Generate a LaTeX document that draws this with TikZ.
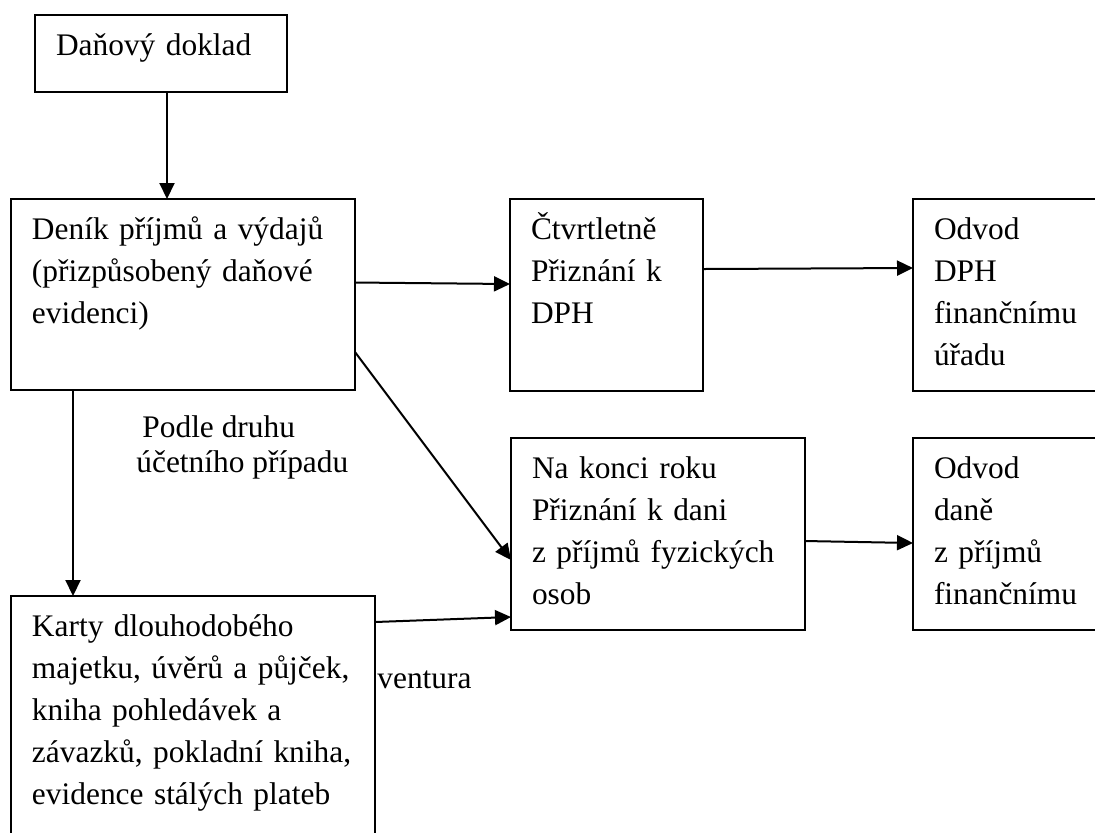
\documentclass[tikz,border=0pt]{standalone}
\usepackage{fontspec}
\setmainfont{Liberation Serif}
\usepackage{tikz}
\usetikzlibrary{arrows.meta}

\tikzset{
	box/.style={draw, line width=1pt, anchor=north west, align=left, outer sep=0pt,
		inner xsep=10.5pt, inner ysep=0pt, text height=20pt, font=\fontsize{15.7pt}{21pt}\selectfont},
	lbl/.style={anchor=base west, inner sep=0pt, font=\fontsize{15.7pt}{21pt}\selectfont},
	arr/.style={-{Triangle[length=8pt,width=7.5pt]}, line width=1pt}
}

\begin{document}
\begin{tikzpicture}[x=0.5pt,y=-0.5pt]
		\useasboundingbox (0,0) rectangle (1095,832);
		\clip (0,0) rectangle (1095,832);

		\node[box, text width=105pt, text depth=18.5pt] (doklad) at (35,15) {Daňový doklad};
		\node[box, text width=151pt, text depth=75.5pt] (denik) at (11,199) {Deník příjmů a výdajů\\(přizpůsobený daňové\\evidenci)};
		\node[box, text width=75.5pt, text depth=76pt] (ctvrt) at (510,199) {Čtvrtletně\\Přiznání k\\DPH};
		\node[box, text width=74pt, text depth=76pt] (odvoddph) at (913,199) {Odvod\\DPH\\finančnímu\\úřadu};
		\node[box, text width=126pt, text depth=76pt] (konec) at (511,438) {Na konci roku\\Přiznání k dani\\z příjmů fyzických\\osob};
		\node[box, text width=74pt, text depth=76pt] (odvoddane) at (913,438) {Odvod\\daně\\z příjmů\\finančnímu};
		\node[box, text width=161pt, text depth=102pt] (karty) at (11,596) {Karty dlouhodobého\\majetku, úvěrů a půjček,\\kniha pohledávek a\\závazků, pokladní kniha,\\evidence stálých plateb};

		\node[lbl] (druh) at (142,437) {Podle druhu};
		\node[lbl] (pripad) at (136,472) {účetního případu};
		\node[lbl] (ventura) at (377,688) {ventura};

		\path [arr] ([xshift=3pt]doklad.south) edge ([xshift=3pt]doklad.south |- denik.north);
		\path [arr] ([yshift=6pt]denik.east) edge ([yshift=5.5pt]ctvrt.west);
		\path [arr] ([yshift=13pt]ctvrt.east) edge ([yshift=13.5pt]odvoddph.west);
		\path [arr] ([yshift=-28.75pt]denik.east) edge ([yshift=-13pt]konec.west);
		\path [arr] ([xshift=-55pt]denik.south) edge ([xshift=-55pt]denik.south |- karty.north);
		\path [arr] ([yshift=-13pt]karty.north east) edge ([yshift=6.5pt]konec.south west);
		\path [arr] ([yshift=-3.5pt]konec.east) edge ([yshift=-4.5pt]odvoddane.west);
	\end{tikzpicture}
\end{document}
